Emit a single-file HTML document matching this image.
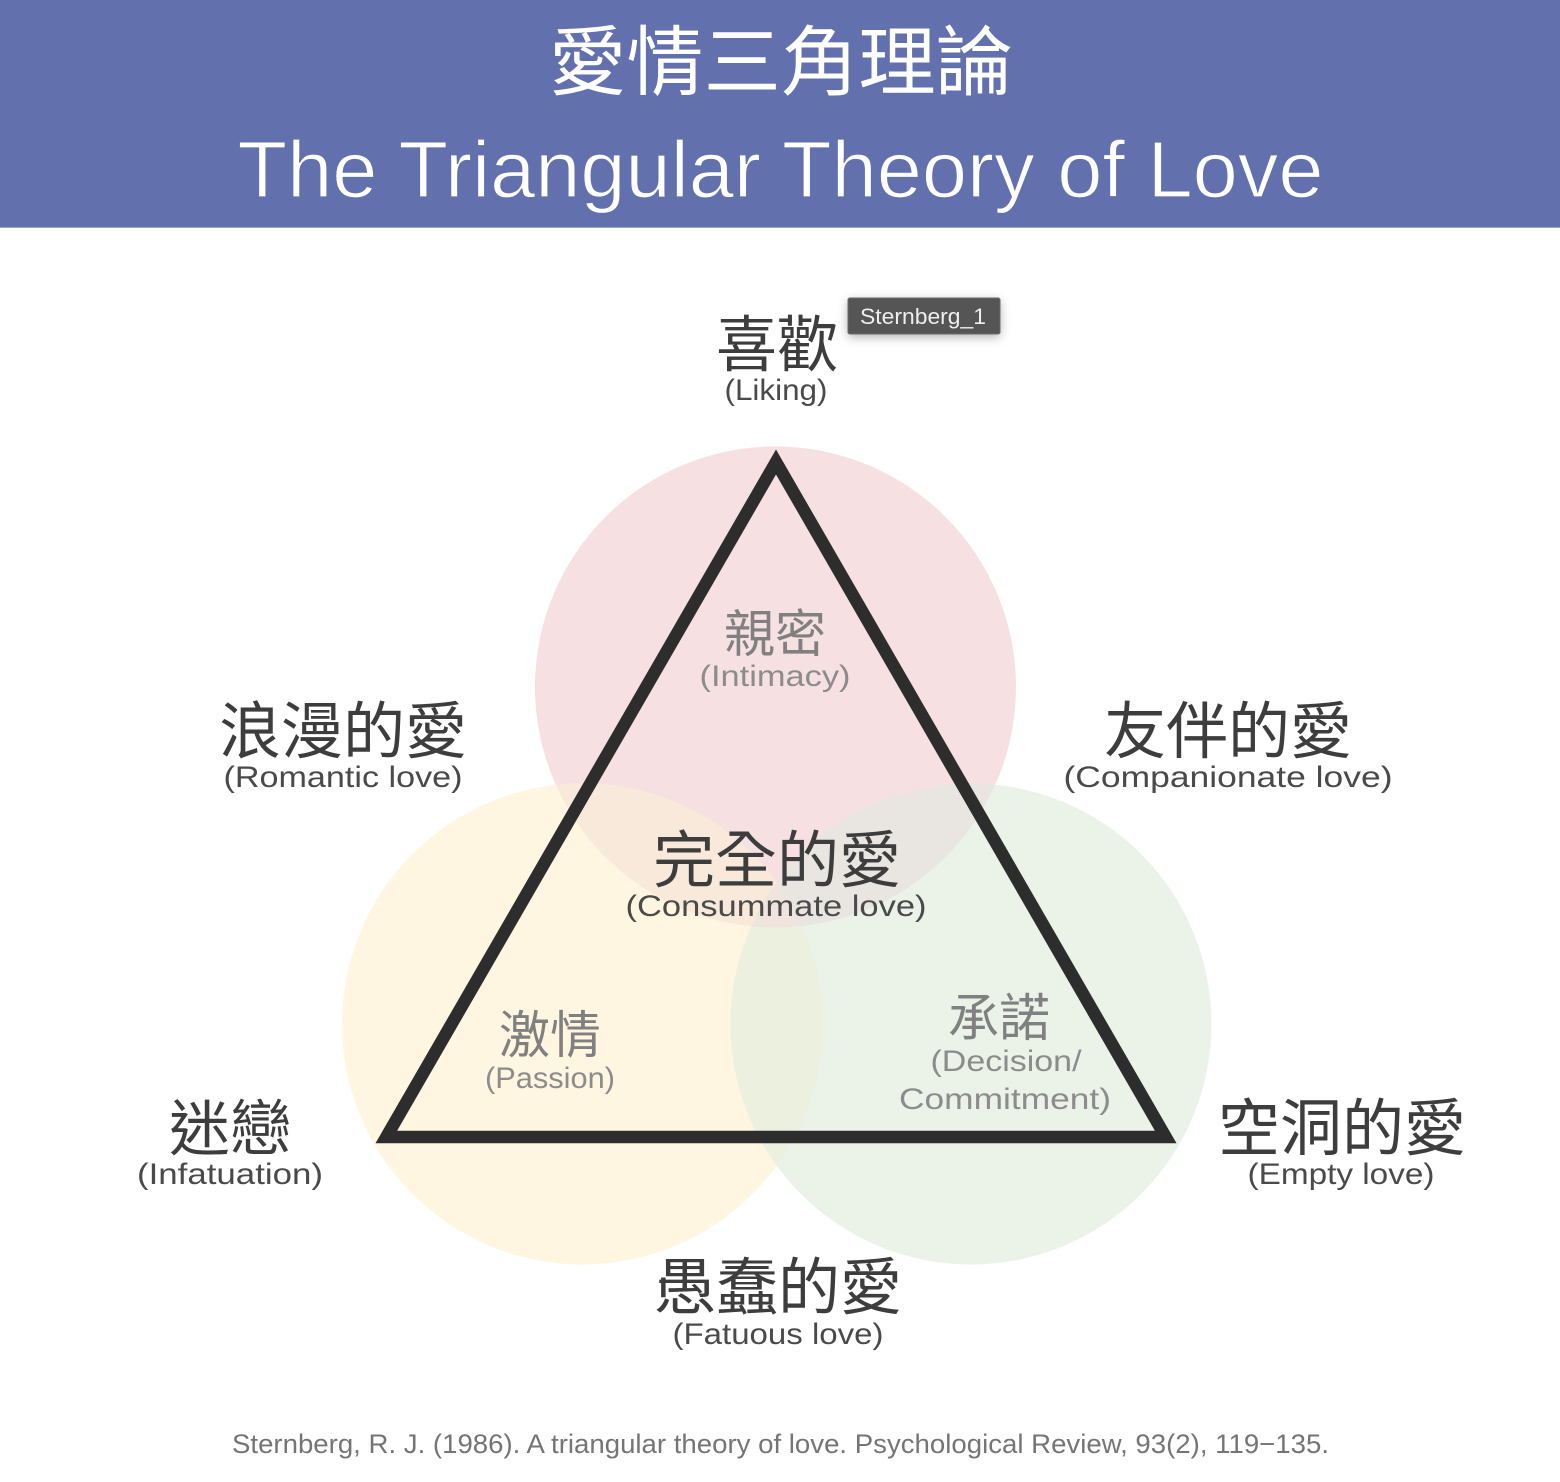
<!DOCTYPE html>
<html lang="zh-Hant">
<head>
<meta charset="utf-8">
<title>The Triangular Theory of Love</title>
<style>
html,body{margin:0;padding:0;background:#fff;width:1560px;height:1482px;overflow:hidden}
svg{display:block}
text{font-family:"Liberation Sans","Noto Sans CJK TC",sans-serif}
.cjk{font-family:"Noto Sans CJK TC","WenQuanYi Zen Hei",sans-serif;font-weight:400}
.d{fill:#3d3d3d}
.e{fill:#4a4a4a}
.g{fill:#808080}
.h{fill:#8c8c8c}
</style>
</head>
<body>
<svg width="1560" height="1482" viewBox="0 0 1560 1482" xmlns="http://www.w3.org/2000/svg">
<defs>
<filter id="s" x="-20%" y="-40%" width="140%" height="200%"><feDropShadow dx="0" dy="3" stdDeviation="5" flood-color="#000" flood-opacity=".28"/></filter>
<clipPath id="cp"><circle cx="775.500" cy="687" r="240.500"/></clipPath>
<clipPath id="cy"><circle cx="582.500" cy="1024" r="240.500"/></clipPath>
<clipPath id="cg"><circle cx="971" cy="1024" r="240.500"/></clipPath>
</defs>
<rect width="1560" height="1482" fill="#fff"/>
<rect width="1560" height="227" fill="#6270ae"/>
<rect y="227" width="1560" height="1" fill="#98a3d0"/>
<text class="cjk" x="781" y="89" font-size="76" fill="#fff" text-anchor="middle" textLength="464" lengthAdjust="spacingAndGlyphs">愛情三角理論</text>
<text x="780.500" y="197" font-size="80" fill="#fff" stroke="#6270ae" stroke-width="1.200" text-anchor="middle" textLength="1086" lengthAdjust="spacingAndGlyphs">The Triangular Theory of Love</text>

<circle cx="775.500" cy="687" r="240.500" fill="#f6e0e1"/>
<circle cx="582.500" cy="1024" r="240.500" fill="#fef6e0"/>
<circle cx="971" cy="1024" r="240.500" fill="#ebf3e9"/>
<g clip-path="url(#cp)">
<circle cx="582.500" cy="1024" r="240.500" fill="#f9e9db"/>
<circle cx="971" cy="1024" r="240.500" fill="#e9e6e2"/>
</g>
<g clip-path="url(#cy)">
<circle cx="971" cy="1024" r="240.500" fill="#ebf0df"/>
</g>
<g clip-path="url(#cp)"><g clip-path="url(#cy)">
<circle cx="971" cy="1024" r="240.500" fill="#f0e5de"/>
</g></g>
<polygon points="776,462 386.300,1137 1165.700,1137" fill="none" stroke="#2d2d2d" stroke-width="12.500" stroke-miterlimit="10"/>

<rect x="848" y="298" width="152" height="36" rx="2" fill="#555" stroke="#6a6a6a" filter="url(#s)"/>
<text x="923" y="324" font-size="22" fill="#eee" text-anchor="middle" textLength="126" lengthAdjust="spacingAndGlyphs">Sternberg_1</text>

<text class="cjk d" x="777" y="366" font-size="61" text-anchor="middle" textLength="122" lengthAdjust="spacingAndGlyphs">喜歡</text>
<text class="e" x="776" y="400" font-size="30" text-anchor="middle" textLength="103" lengthAdjust="spacingAndGlyphs">(Liking)</text>

<text class="cjk g" x="775" y="652" font-size="51" text-anchor="middle" textLength="102" lengthAdjust="spacingAndGlyphs">親密</text>
<text class="h" x="775" y="686" font-size="30" text-anchor="middle" textLength="151" lengthAdjust="spacingAndGlyphs">(Intimacy)</text>

<text class="cjk d" x="343" y="753" font-size="62" text-anchor="middle" textLength="248" lengthAdjust="spacingAndGlyphs">浪漫的愛</text>
<text class="e" x="343" y="787" font-size="30" text-anchor="middle" textLength="239" lengthAdjust="spacingAndGlyphs">(Romantic love)</text>

<text class="cjk d" x="1228" y="753" font-size="62" text-anchor="middle" textLength="248" lengthAdjust="spacingAndGlyphs">友伴的愛</text>
<text class="e" x="1228" y="787" font-size="30" text-anchor="middle" textLength="329" lengthAdjust="spacingAndGlyphs">(Companionate love)</text>

<text class="cjk d" x="777" y="882" font-size="62" text-anchor="middle" textLength="248" lengthAdjust="spacingAndGlyphs">完全的愛</text>
<text class="e" x="776" y="916" font-size="30" text-anchor="middle" textLength="301" lengthAdjust="spacingAndGlyphs">(Consummate love)</text>

<text class="cjk g" x="550" y="1053" font-size="51" text-anchor="middle" textLength="102" lengthAdjust="spacingAndGlyphs">激情</text>
<text class="h" x="550" y="1088" font-size="30" text-anchor="middle" textLength="130" lengthAdjust="spacingAndGlyphs">(Passion)</text>

<text class="cjk g" x="999" y="1036" font-size="51" text-anchor="middle" textLength="102" lengthAdjust="spacingAndGlyphs">承諾</text>
<text class="h" x="1006" y="1071" font-size="30" text-anchor="middle" textLength="151" lengthAdjust="spacingAndGlyphs">(Decision/</text>
<text class="h" x="1005" y="1109" font-size="30" text-anchor="middle" textLength="212" lengthAdjust="spacingAndGlyphs">Commitment)</text>

<text class="cjk d" x="230" y="1150" font-size="61" text-anchor="middle" textLength="122" lengthAdjust="spacingAndGlyphs">迷戀</text>
<text class="e" x="230" y="1184" font-size="30" text-anchor="middle" textLength="186" lengthAdjust="spacingAndGlyphs">(Infatuation)</text>

<text class="cjk d" x="1342" y="1150" font-size="62" text-anchor="middle" textLength="248" lengthAdjust="spacingAndGlyphs">空洞的愛</text>
<text class="e" x="1341" y="1184" font-size="30" text-anchor="middle" textLength="187" lengthAdjust="spacingAndGlyphs">(Empty love)</text>

<text class="cjk d" x="778" y="1309" font-size="62" text-anchor="middle" textLength="248" lengthAdjust="spacingAndGlyphs">愚蠢的愛</text>
<text class="e" x="778" y="1344" font-size="30" text-anchor="middle" textLength="211" lengthAdjust="spacingAndGlyphs">(Fatuous love)</text>

<text x="780.500" y="1453" font-size="27" fill="#757575" text-anchor="middle" textLength="1097" lengthAdjust="spacingAndGlyphs">Sternberg, R. J. (1986). A triangular theory of love. Psychological Review, 93(2), 119−135.</text>
</svg>
</body>
</html>
